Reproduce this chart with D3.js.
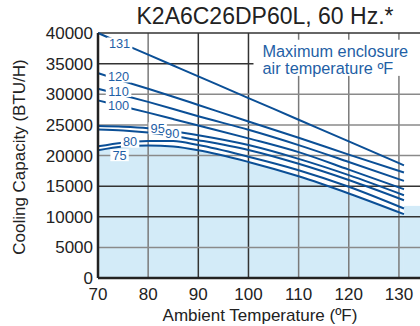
<!DOCTYPE html>
<html>
<head>
<meta charset="utf-8">
<script src="https://cdn.jsdelivr.net/npm/d3@7"></script>
<style>
  body { margin: 0; background: #fff; }
  svg text { font-family: "Liberation Sans", Arial, sans-serif; }
</style>
</head>
<body>
<div id="chart"></div>
<script>
// Ambient temperature points (ºF) where capacity was read
const temps = [70, 75, 80, 85, 90, 100, 110, 120, 131];

// Cooling capacity (BTU/H) per max enclosure air temperature curve
const curveNames = ["131", "120", "110", "100", "95", "90", "80", "75"];
const cap131 = [40000, 38230, 36460, 34690, 32920, 29380, 25840, 22300, 18400];
const cap120 = [33440, 32150, 30900, 29600, 28250, 25550, 22900, 20150, 17215];
const cap110 = [30900, 29850, 28750, 27600, 26400, 24200, 21700, 18950, 15850];
const cap100 = [29000, 28000, 27000, 25950, 24900, 22800, 20550, 17700, 14500];
const cap95  = [24800, 24700, 24450, 23950, 23300, 21700, 19450, 16800, 13520];
const cap90  = [24260, 24100, 23750, 23200, 22500, 20900, 18650, 16000, 12700];
const cap80  = [21500, 22100, 22350, 22350, 21700, 19800, 17600, 14900, 11350];
const cap75  = [20850, 21450, 21650, 21450, 20850, 18950, 16600, 13800, 10420];
const capacities = [cap131, cap120, cap110, cap100, cap95, cap90, cap80, cap75];

// where each curve's number sits (temperature, capacity)
const labelT = [74.3, 74.1, 74.1, 74.1, 81.9, 84.8, 76.4, 74.3];
const labelV = [38300, 32900, 30530, 28150, 24450, 23550, 22250, 20050];

// shaded shelf right of the last curve point
const shelfValue = 11775;

const xTicks = [70, 80, 90, 100, 110, 120, 130];
const yTicks = [0, 5000, 10000, 15000, 20000, 25000, 30000, 35000, 40000];
const darkX = [90, 100];
const darkY = [10000, 15000, 35000];

const W = 420, H = 326;
const margin = { top: 33, left: 98, bottom: 48 };
const blue = "#0b4f96", textBlue = "#1f5fa6", fillBlue = "#d3ebf8";

const svg = d3.select("#chart").append("svg")
  .attr("width", W).attr("height", H);

const x = d3.scaleLinear().domain([70, 134.2]).range([margin.left, W]);
const y = d3.scaleLinear().domain([0, 40000]).range([H - margin.bottom, margin.top]);

const line = d3.line()
  .x(d => x(d[0])).y(d => y(d[1]))
  .curve(d3.curveMonotoneX);

/** shaded operating area under the lowest curve */
const lowest = temps.map((t, i) => [t, cap75[i]]);
svg.append("path")
  .attr("d", d3.area()
    .x(d => x(d[0])).y0(y(0)).y1(d => y(d[1]))
    .curve(d3.curveMonotoneX)(lowest))
  .attr("fill", fillBlue);
svg.append("rect")
  .attr("x", x(131)).attr("y", y(shelfValue))
  .attr("width", x(134.2) - x(131)).attr("height", y(0) - y(shelfValue))
  .attr("fill", fillBlue);

/** grid */
svg.append("g").selectAll("line")
  .data(xTicks.slice(1))
  .join("line")
  .attr("x1", d => x(d)).attr("x2", d => x(d))
  .attr("y1", y(0)).attr("y2", y(40000))
  .attr("stroke", d => darkX.includes(d) ? "#333" : "#7a7a7a")
  .attr("stroke-width", 1.5);

svg.append("g").selectAll("line")
  .data(yTicks.slice(1))
  .join("line")
  .attr("x1", x(70)).attr("x2", W)
  .attr("y1", d => y(d)).attr("y2", d => y(d))
  .attr("stroke", d => (darkY.includes(d) || d === 40000) ? "#333" : "#8a8a8a")
  .attr("stroke-width", 1.5);

/** legend box (hides grid behind it) */
const legend = svg.append("g");
legend.append("rect")
  .attr("x", x(101)).attr("y", y(38900))
  .attr("width", W - x(101)).attr("height", y(33000) - y(38900))
  .attr("fill", "#fff");
legend.append("text")
  .attr("x", x(102.8)).attr("y", y(36080))
  .attr("fill", textBlue).style("font-size", "16.3px")
  .text("Maximum enclosure");
legend.append("text")
  .attr("x", x(102.8)).attr("y", y(33300))
  .attr("fill", textBlue).style("font-size", "16.3px")
  .text("air temperature ºF");

/** curves */
svg.append("g").selectAll("path")
  .data(capacities)
  .join("path")
  .attr("d", vals => line(temps.map((t, i) => [t, vals[i]])))
  .attr("fill", "none")
  .attr("stroke", blue)
  .attr("stroke-width", 2);

/** curve labels on white boxes: boxes first, then text */
svg.append("g").selectAll("rect")
  .data(curveNames)
  .join("rect")
  .attr("x", (d, i) => x(labelT[i]) - d.length * 3.6 - 2)
  .attr("y", (d, i) => y(labelV[i]) - 6)
  .attr("width", d => d.length * 7.2 + 4).attr("height", 12)
  .attr("fill", "#fff");
svg.append("g").selectAll("text")
  .data(curveNames)
  .join("text")
  .attr("x", (d, i) => x(labelT[i])).attr("y", (d, i) => y(labelV[i]))
  .attr("text-anchor", "middle").attr("dy", "0.36em")
  .attr("fill", textBlue).style("font-size", "12.8px")
  .text(d => d);

/** axes frame */
svg.append("line")
  .attr("x1", x(70)).attr("x2", x(70)).attr("y1", y(0)).attr("y2", y(40000))
  .attr("stroke", "#222").attr("stroke-width", 2.5);
svg.append("line")
  .attr("x1", x(70)).attr("x2", W).attr("y1", y(0)).attr("y2", y(0))
  .attr("stroke", "#222").attr("stroke-width", 2.5);

/** tick labels */
svg.append("g").selectAll("text")
  .data(yTicks)
  .join("text")
  .attr("x", x(70) - 5).attr("y", d => y(d))
  .attr("dy", "0.36em").attr("text-anchor", "end")
  .attr("fill", "#222").style("font-size", "17px")
  .text(d => d);

svg.append("g").selectAll("text")
  .data(xTicks)
  .join("text")
  .attr("x", d => x(d)).attr("y", y(0) + 22)
  .attr("text-anchor", "middle")
  .attr("fill", "#222").style("font-size", "17px")
  .text(d => d);

/** titles */
svg.append("text")
  .attr("x", 265).attr("y", 24)
  .attr("text-anchor", "middle")
  .attr("fill", "#222").style("font-size", "23px")
  .text("K2A6C26DP60L, 60 Hz.*");

svg.append("text")
  .attr("x", 260).attr("y", 321)
  .attr("text-anchor", "middle")
  .attr("fill", "#222").style("font-size", "17px")
  .text("Ambient Temperature (ºF)");

svg.append("text")
  .attr("transform", "translate(25,157) rotate(-90)")
  .attr("text-anchor", "middle")
  .attr("fill", "#222").style("font-size", "17px")
  .text("Cooling Capacity (BTU/H)");
</script>
</body>
</html>
